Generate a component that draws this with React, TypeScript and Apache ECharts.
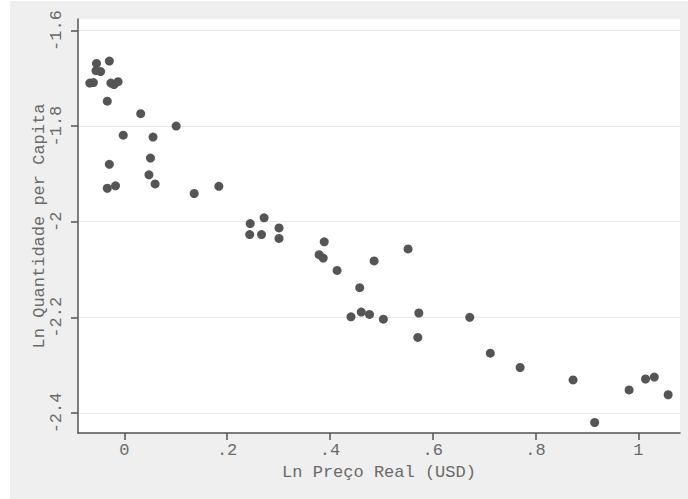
import React, { useEffect, useRef } from "react";
import * as echarts from "echarts";

const lnPrice: number[] = [
  -0.054, -0.029, -0.055, -0.046, -0.067, -0.06, -0.026, -0.02, -0.012, -0.033,
  0.032, 0.101, -0.002, 0.056, 0.051, -0.029, 0.048, -0.033, -0.017, 0.06,
  0.136, 0.184, 0.245, 0.272, 0.301, 0.244, 0.267, 0.301, 0.389, 0.379,
  0.387, 0.414, 0.486, 0.552, 0.458, 0.441, 0.461, 0.477, 0.504, 0.573,
  0.571, 0.672, 0.712, 0.77, 0.873, 0.915, 0.982, 1.014, 1.031, 1.058,
];
const lnQty: number[] = [
  -1.669, -1.664, -1.684, -1.686, -1.71, -1.709, -1.71, -1.713, -1.707, -1.748,
  -1.774, -1.8, -1.819, -1.823, -1.867, -1.88, -1.902, -1.93, -1.925, -1.921,
  -1.941, -1.926, -2.004, -1.992, -2.013, -2.027, -2.027, -2.035, -2.042, -2.069,
  -2.076, -2.102, -2.082, -2.057, -2.138, -2.199, -2.189, -2.194, -2.204, -2.191,
  -2.242, -2.2, -2.275, -2.305, -2.331, -2.42, -2.352, -2.329, -2.325, -2.362,
];
const xTicks: number[] = [0, 0.2, 0.4, 0.6, 0.8, 1];
const yTicks: number[] = [-2.4, -2.2, -2, -1.8, -1.6];
const xTitle = "Ln Preço Real (USD)";
const yTitle = "Ln Quantidade per Capita";

const FONT = "Liberation Mono";
const TEXT = "#6a6a6a";
const AXIS = "#555555";

function fmt(v: number): string {
  const r = Math.round(v * 10) / 10;
  if (r === 0) return "0";
  let s = String(r);
  s = s.replace(/^0\./, ".").replace(/^-0\./, "-.");
  return s;
}

export default function App() {
  const ref = useRef<HTMLDivElement>(null);
  useEffect(() => {
    if (!ref.current) return;
    const chart = echarts.init(ref.current, undefined, { renderer: "svg" });
    const data = lnPrice.map((x, i) => [x, lnQty[i]]);
    chart.setOption({
      animation: false,
      backgroundColor: "#ffffff",
      graphic: [
        {
          type: "rect",
          z: -10,
          silent: true,
          shape: { x: 10, y: 1, width: 678, height: 498 },
          style: { fill: "#efefef" },
        },
      ],
      grid: {
        left: 78,
        top: 19,
        width: 602,
        height: 414,
        show: true,
        backgroundColor: "#ffffff",
        borderWidth: 0,
      },
      xAxis: {
        type: "value",
        min: -0.09,
        max: 1.081,
        name: xTitle,
        nameLocation: "middle",
        nameGap: 31,
        nameMoveOverlap: false,
        nameTextStyle: { fontFamily: FONT, fontSize: 17, color: TEXT },
        axisLine: { show: true, onZero: false, lineStyle: { color: AXIS, width: 1.5 } },
        axisTick: { show: true, length: 7, customValues: xTicks, lineStyle: { color: AXIS, width: 1.5 } },
        axisLabel: {
          customValues: xTicks,
          formatter: (v: number) => fmt(v),
          fontFamily: FONT,
          fontSize: 17,
          color: TEXT,
          margin: 9,
        },
        splitLine: { show: false },
      },
      yAxis: {
        type: "value",
        min: -2.442,
        max: -1.576,
        name: yTitle,
        nameLocation: "middle",
        nameGap: 30,
        nameRotate: 90,
        nameMoveOverlap: false,
        nameTextStyle: { fontFamily: FONT, fontSize: 17, color: TEXT },
        axisLine: { show: true, onZero: false, lineStyle: { color: AXIS, width: 1.5 } },
        axisTick: { show: true, length: 7, customValues: yTicks, lineStyle: { color: AXIS, width: 1.5 } },
        axisLabel: {
          customValues: yTicks,
          rotate: 90,
          formatter: (v: number) => fmt(v),
          fontFamily: FONT,
          fontSize: 17,
          color: TEXT,
          margin: 13,
        },
        splitLine: { show: true, lineStyle: { color: "#e8e8e8", width: 1 } },
      },
      series: [
        {
          type: "scatter",
          data,
          symbol: "circle",
          symbolSize: 9,
          itemStyle: { color: "#555555", opacity: 1 },
        },
      ],
    });
    return () => chart.dispose();
  }, []);
  return (
    <div
      ref={ref}
      style={{ position: "absolute", left: 0, top: 0, width: 688, height: 499 }}
    />
  );
}
